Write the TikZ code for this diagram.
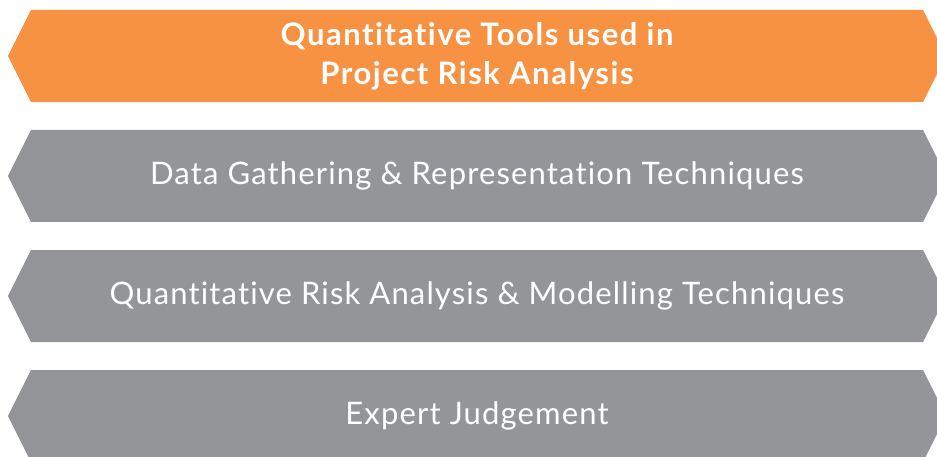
\documentclass[tikz,border=0pt]{standalone}
\usepackage{fontspec}
\setmainfont{Lato}[Ligatures=NoCommon]
\usetikzlibrary{positioning,shapes.symbols}
\definecolor{RiskOrange}{RGB}{247,146,67}
\definecolor{RiskGray}{RGB}{147,149,152}

\begin{document}
\begin{tikzpicture}[
    x=1pt, y=1pt,
    banner/.style={signal, signal to=west and east, signal pointer angle=127,
                   minimum width=938pt, minimum height=92pt, inner sep=0pt,
                   outer sep=0pt, text=white, align=center},
    tool/.style={banner, fill=RiskGray,
                 font=\fontsize{31}{36}\selectfont\addfontfeatures{LetterSpace=3.7}},
    node distance=28pt
]
    \useasboundingbox (0,0) rectangle (937,-457);
    \clip (0,0) rectangle (937,-457);
    \node[banner, fill=RiskOrange,
          font=\fontsize{31}{39}\selectfont\bfseries\addfontfeatures{LetterSpace=5}]
        (title) at (477,-56) {Quantitative Tools used in\\Project Risk Analysis};
    \node[tool, below=of title] (data) {Data Gathering \& Representation Techniques};
    \node[tool, below=of data] (model) {Quantitative Risk Analysis \& Modelling Techniques};
    \node[tool, below=of model] (expert) {Expert Judgement};
\end{tikzpicture}
\end{document}
